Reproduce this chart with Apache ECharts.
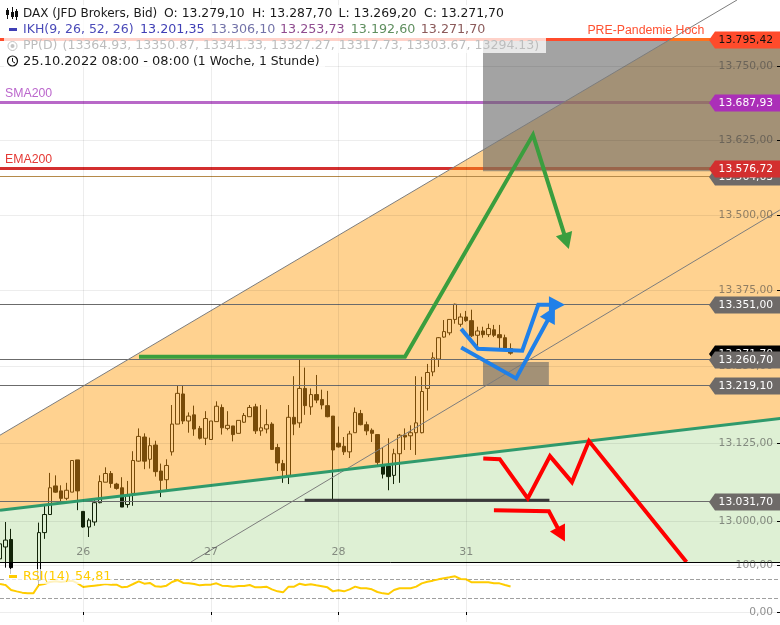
<!DOCTYPE html>
<html><head><meta charset="utf-8">
<style>html,body{margin:0;padding:0;background:#fff}#c{width:780px;height:625px}</style>
<script src="https://cdn.jsdelivr.net/npm/echarts@6/dist/echarts.min.js"></script>
</head><body><div id="c"></div>
<script>
const priceTicks=[13750,13625,13500,13375,13250,13125,13000];
const rsiTicks=[100,0];
const dayLabels={15:'26',38:'27',61:'28',84:'31'};
// [open, close, low, high]
const candles=[
[12939,12963,12925,12988],[12958,12969,12925,12998],[12970,12925,12915,12987],[12925,12900,12890,12928],[12900,12888,12880,12905],
[12888,12895,12880,12902],[12895,12905,12888,12925],[12905,12981,12895,12997],[12981,13010,12971,13025],[13010,13053,13010,13077],
[13056,13046,13045,13073],[13048,13036,13030,13057],[13036,13049,13033,13061],[13046,13097,13046,13097],[13098,13048,13017,13098],
[13015,12990,12989,13015],[12990,13001,12974,13004],[12998,13029,12992,13033],[13029,13063,13028,13073],[13062,13076,13062,13086],
[13076,13060,13053,13080],[13059,13052,13050,13061],[13053,13022,13022,13070],[13026,13040,13021,13064],[13044,13097,13024,13112],
[13096,13136,13095,13149],[13135,13096,13083,13141],[13099,13121,13084,13134],[13122,13079,13071,13129],[13080,13065,13038,13092],
[13066,13089,13050,13099],[13111,13156,13105,13187],[13156,13206,13156,13218],[13205,13161,13156,13218],[13161,13169,13142,13175],
[13171,13148,13137,13186],[13149,13133,13131,13153],[13133,13165,13122,13177],[13131,13161,13131,13161],[13160,13185,13160,13193],
[13183,13150,13139,13188],[13149,13154,13146,13177],[13153,13139,13128,13153],[13141,13162,13141,13162],[13159,13170,13158,13174],
[13168,13183,13168,13187],[13184,13145,13140,13189],[13145,13150,13137,13187],[13148,13155,13141,13180],[13156,13115,13114,13159],
[13118,13093,13080,13124],[13092,13081,13061,13098],[13073,13167,13059,13187],[13167,13156,13138,13234],[13158,13214,13150,13261],
[13214,13186,13171,13248],[13184,13204,13171,13214],[13204,13195,13190,13236],[13196,13187,13180,13212],[13186,13168,13167,13210],
[13169,13114,13032,13169],[13125,13119,13118,13152],[13120,13111,13106,13135],[13111,13140,13101,13145],[13142,13175,13142,13183],
[13173,13155,13154,13179],[13155,13145,13138,13160],[13146,13141,13127,13149],[13139,13094,13088,13139],[13088,13075,13068,13118],
[13088,13071,13049,13133],[13073,13108,13059,13116],[13108,13138,13061,13140],[13138,13135,13114,13149],[13137,13142,13114,13154],
[13142,13158,13106,13234],[13142,13209,13141,13233],[13214,13240,13178,13254],[13241,13264,13234,13273],[13262,13297,13249,13298],
[13298,13307,13297,13326],[13305,13327,13301,13327],[13327,13352,13320,13353],[13319,13331,13315,13337],[13331,13325,13323,13341],
[13325,13300,13298,13343],[13301,13308,13282,13315],[13308,13302,13297,13315],[13302,13312,13298,13320],[13310,13301,13298,13318],
[13302,13297,13279,13318],[13297,13279,13278,13302],[13279.1,13271.7,13269.2,13287.7]];
const rsi=[60.2,58,47.3,44.4,41.6,40.1,40.1,58,60.2,64.5,66,64.5,66,67.4,61.7,53.8,55.2,56.6,58,60.2,58.8,58.8,53.1,54.5,60.2,66,60.9,62.4,55.2,54.5,56.6,64.5,68.8,62.4,61.7,60.2,57.3,58.8,58.8,61.7,56.6,55.9,54.5,55.9,55.9,58,53.1,53,54.5,48.7,44.4,42.3,54.5,54.5,60.9,58,59.5,57.3,55.2,53,44.4,46.6,44.4,48.7,54.5,50.9,50.9,48.7,43,40.1,38.7,47.3,50.9,50.9,50.9,54.5,61.6,65.2,67.4,70.2,72.4,74.5,76.7,70.9,70.2,63.8,63.8,63.8,63.8,61.6,61.6,58,54.81];
const axisCount=142;
const priceMin=12934, priceMax=13862.8;
const barIdxMax=axisCount-1;
const thickLevels=[[13795.42,'#FF4B2B'],[13687.93,'#B868C8'],[13576.72,'#D32F2F']];
const thinLevels=[[13564.63,'#b58a4a'],[13351,'#6b6b6b'],[13260.7,'#6b6b6b'],[13219.1,'#6b6b6b'],[13031.7,'#6b6b6b']];
const tags=[[13795.42,'13.795,42','#FF4B2B','#111111'],[13687.93,'13.687,93','#AB2FB8','#ffffff'],
 [13564.63,'13.564,63','#6E6A68','#ffffff'],[13576.72,'13.576,72','#D32F2F','#ffffff'],
 [13271.70,'13.271,70','#000000','#ffffff'],[13351,'13.351,00','#6E6A68','#ffffff'],[13260.7,'13.260,70','#6E6A68','#ffffff'],
 [13219.1,'13.219,10','#6E6A68','#ffffff'],[13031.7,'13.031,70','#6E6A68','#ffffff']];
const notes=[[0.9,13687.93,'SMA200','#BB66CC','left'],[0.9,13576.72,'EMA200','#E53935','left'],[126.9,13795.42,'PRE-Pandemie Hoch','#FF5030','right']];
const orangeZone=[[0,13138],[121.2,13798],[141,13798],[141,13165.7],[0,13017]];
const greenZone=[[0,13017],[141,13165.7],[141,12934],[0,12934]];
const grayZones=[[[87.03,13793],[141,13793],[141,13573],[87.03,13573]],[[87.03,13257],[98.9,13257],[98.9,13219.1],[87.03,13219.1]]];
const upperTrend=[[0,13138],[132.8,13862.8]];
const midTrend=[[34.4,12934],[140.5,13508]];
const channelLine=[[0,13017],[141,13165.7]];
const supportLine=[[54.9,13033],[99,13033]];
const greenArrow=[[25.05,13265.6],[72.97,13265.6],[96.04,13634],[102.5,13443.5]];
const blueArrow1=[[83.1,13311.5],[86.1,13278.8],[94.1,13275.6],[97,13351],[101.8,13351]];
const blueArrow2=[[83.1,13281],[93,13230.4],[100,13347.7]];
const redPath=[[87.08,13100.4],[90.05,13099.2],[95.1,13035.9],[99.1,13104.1],[103.06,13062.1],[106.13,13128.4],[123.7,12934]];
const redArrow=[[89,13017],[98.9,13015.3],[101.8,12966.6]];

const categories=Array.from({length:axisCount},(_,i)=>dayLabels[i]||'');
const fmt=v=>v.toLocaleString('de-DE',{minimumFractionDigits:2,maximumFractionDigits:2});
const isDay=(i,v)=>v!=='';
function customSeries(z,items,draw,xi,yi){
 return {type:'custom',coordinateSystem:'cartesian2d',xAxisIndex:xi||1,yAxisIndex:yi||0,z,silent:true,clip:true,animation:false,
  data:items.map((_,i)=>[0,yi?50:13300,i]),
  renderItem:(p,api)=>draw(items[p.dataIndex],api,p)};
}
const pts=(arr,api)=>arr.map(a=>api.coord(a));
const poly=(fill)=>(arr,api)=>({type:'polygon',shape:{points:pts(arr,api)},style:{fill}});
const tickMark=(v,api)=>{const y=Math.round(api.coord([0,v])[1])+0.5;return {type:'line',shape:{x1:777,y1:y,x2:780,y2:y},style:{stroke:'#000',lineWidth:1}};};
const paths=[{d:greenArrow,c:'#3A9E3E',h:1},{d:blueArrow1,c:'#2080E8',h:1},{d:blueArrow2,c:'#2080E8',h:1},{d:redPath,c:'#FF0000',h:0},{d:redArrow,c:'#FF0000',h:1}];
const gridLine='rgba(0,0,0,0.07)', labelCol='rgba(70,70,70,0.6)';
const option={
 animation:false,
 backgroundColor:'#ffffff',
 grid:[{left:0,width:782.5,top:0,height:562,outerBoundsMode:'none'},{left:0,width:782.5,top:562,height:60,outerBoundsMode:'none'}],
 xAxis:[
  {type:'category',gridIndex:0,z:6,data:categories,boundaryGap:false,
   axisLine:{show:true,lineStyle:{color:'#000',width:1}},axisTick:{show:false},
   axisLabel:{inside:true,interval:isDay,margin:4,color:labelCol,fontFamily:'DejaVu Sans',fontSize:11,hideOverlap:false},
   splitLine:{show:true,interval:isDay,lineStyle:{color:gridLine,width:1}}},
  {type:'value',gridIndex:0,min:0,max:barIdxMax,show:false},
  {type:'category',gridIndex:1,z:6,data:categories,boundaryGap:false,
   axisLine:{show:false},axisTick:{show:true,interval:isDay,length:3,alignWithLabel:true,lineStyle:{color:'#000'}},
   axisLabel:{show:false},splitLine:{show:true,interval:isDay,lineStyle:{color:gridLine}}},
  {type:'value',gridIndex:1,min:0,max:barIdxMax,show:false}
 ],
 yAxis:[
  {type:'log',logBase:10,gridIndex:0,z:6,position:'right',offset:-2.5,min:priceMin,max:priceMax,
   axisLine:{show:false},axisTick:{show:false,customValues:priceTicks},
   axisLabel:{inside:true,margin:7,customValues:priceTicks,formatter:v=>fmt(v),color:labelCol,fontFamily:'DejaVu Sans',fontSize:10.7},
   splitLine:{show:true,lineStyle:{color:gridLine}}},
  {type:'value',gridIndex:1,z:6,position:'right',offset:-2.5,min:-21.5,max:107.5,
   axisLine:{show:false},axisTick:{show:false,customValues:rsiTicks},
   axisLabel:{inside:true,margin:7,customValues:rsiTicks,formatter:v=>fmt(v),color:labelCol,fontFamily:'DejaVu Sans',fontSize:10.7},
   splitLine:{show:true,lineStyle:{color:gridLine}}}
 ],
 series:[
  {type:'candlestick',xAxisIndex:0,yAxisIndex:0,z:2,data:candles,barWidth:4,silent:true,
   itemStyle:{color:'rgba(0,0,0,0)',color0:'#000',borderColor:'#000',borderColor0:'#000',borderWidth:1}},
  customSeries(2,thickLevels,(it,api)=>{const y=Math.floor(api.coord([0,it[0]])[1]);return {type:'rect',shape:{x:0,y:y-1,width:780,height:3},style:{fill:it[1]}};}),
  customSeries(3,[orangeZone],poly('rgba(255,160,20,0.47)')),
  customSeries(3,[greenZone],poly('rgba(90,180,40,0.2)')),
  customSeries(4,grayZones,poly('rgba(102,102,102,0.6)')),
  customSeries(5,thinLevels,(it,api)=>{const y=Math.floor(api.coord([0,it[0]])[1])+0.5;return {type:'line',shape:{x1:0,y1:y,x2:780,y2:y},style:{stroke:it[1],lineWidth:1}};}),
  customSeries(5,[upperTrend,midTrend],(it,api)=>({type:'polyline',shape:{points:pts(it,api)},style:{stroke:'#7d7d7d',lineWidth:1,fill:null}})),
  customSeries(5,[channelLine],(it,api)=>({type:'polyline',shape:{points:pts(it,api)},style:{stroke:'#2f9a6c',lineWidth:3,fill:null}})),
  customSeries(5,[supportLine],(it,api)=>({type:'polyline',shape:{points:pts(it,api)},style:{stroke:'#3a3a3a',lineWidth:3,fill:null}})),
  customSeries(6,priceTicks,tickMark),
  customSeries(6,rsiTicks,tickMark,3,1),
  customSeries(6,paths,(it,api)=>{
    const P=pts(it.d,api);const kids=[];
    const n=P.length,t=P[n-1],a=P[n-2];
    let line=P.slice();
    if(it.h){
      const dx=t[0]-a[0],dy=t[1]-a[1],L=Math.hypot(dx,dy),ux=dx/L,uy=dy/L,h=16,w=8.5;
      const b=[t[0]-ux*h,t[1]-uy*h];
      line[n-1]=[t[0]-ux*h*0.7,t[1]-uy*h*0.7];
      kids.push({type:'polygon',shape:{points:[t,[b[0]-uy*w,b[1]+ux*w],[b[0]+uy*w,b[1]-ux*w]]},style:{fill:it.c}});
    }
    kids.unshift({type:'polyline',shape:{points:line},style:{stroke:it.c,lineWidth:4,fill:null,lineJoin:'miter'}});
    return {type:'group',children:kids};
  }),
  customSeries(7,tags,(it,api)=>{
    const y=Math.floor(api.coord([0,it[0]])[1])+1;
    return {type:'group',children:[
      {type:'polygon',shape:{points:[[709,y],[715,y-8.5],[780,y-8.5],[780,y+8.5],[715,y+8.5]]},style:{fill:it[2]}},
      {type:'text',style:{x:773,y:y,text:it[1],fill:it[3],font:'10.7px "DejaVu Sans"',align:'right',verticalAlign:'middle'}}
    ]};
  }),
  customSeries(7,notes,(it,api)=>{const c=api.coord([it[0],it[1]]);
    return {type:'text',style:{x:c[0],y:c[1]-3,text:it[2],fill:it[3],font:'12.3px "Liberation Sans"',align:it[4],verticalAlign:'bottom'}};}),
  {type:'line',xAxisIndex:2,yAxisIndex:1,z:5,data:rsi,showSymbol:false,silent:true,lineStyle:{color:'#FFCC00',width:2},
   markLine:{silent:true,symbol:'none',label:{show:false},lineStyle:{type:'dashed',color:'#a0a0a0',width:1},data:[{yAxis:70},{yAxis:30}]}}
 ],
 graphic:{elements:[]}
};
const F='"DejaVu Sans"';
const G=[];
const bg=(x,y,w,h)=>G.push({type:'rect',z:100,silent:true,shape:{x,y,width:w,height:h},style:{fill:'rgba(255,255,255,0.75)'}});
const tx=(x,y,t,c,s)=>G.push({type:'text',z:101,silent:true,x,y,style:{text:t,fill:c,font:(s||12.4)+'px '+F,verticalAlign:'middle',align:'left'}});
bg(4,5,503,16);bg(4,21,484,17);bg(4,38,542,15);bg(4,53,321,14);bg(4,569,108,15);
tx(23,14,'DAX (JFD Brokers, Bid)','#1a1a1a',12);
[[164,'O: 13.279,10'],[252,'H: 13.287,70'],[338.6,'L: 13.269,20'],[424,'C: 13.271,70']].forEach(a=>tx(a[0],14,a[1],'#1a1a1a'));
[[23,'IKH(9, 26, 52, 26)','#4A4AB8',12.5],[140,'13.201,35','#3F3FB5',12.7],[210.7,'13.306,10','#7272A8',12.7],[280,'13.253,73','#8F4C8F',12.7],[350.7,'13.192,60','#5F8F5F',12.7],[420.7,'13.271,70','#8B5A5A',12.7]].forEach(a=>tx(a[0],30,a[1],a[2],a[3]));
tx(23,46,'PP(D)','#bdbdbd',12.5);
tx(62.5,46,'(13364.93, 13350.87, 13341.33, 13327.27, 13317.73, 13303.67, 13294.13)','#bdbdbd',12.55);
tx(23,62,'25.10.2022 08:00 - 08:00','#1a1a1a',13);
tx(193,62,'(1 Woche, 1 Stunde)','#1a1a1a',12.4);
tx(23,577,'RSI(14)','#FFCC00',12.7);tx(75,577,'54,81','#FFCC00',12.7);
G.push({type:'rect',z:101,silent:true,shape:{x:9,y:28,width:8,height:3},style:{fill:'#3F3FB5'}});
G.push({type:'rect',z:101,silent:true,shape:{x:9,y:575,width:8,height:3},style:{fill:'#FFCC00'}});
[[7.5,8,19,10,15],[12.5,7,19,12,17],[16.5,9,20,11,17]].forEach(a=>{
  G.push({type:'line',z:101,silent:true,shape:{x1:a[0],y1:a[1],x2:a[0],y2:a[2]},style:{stroke:'#111',lineWidth:1}});
  G.push({type:'rect',z:101,silent:true,shape:{x:a[0]-1.5,y:a[3],width:3,height:a[4]-a[3]},style:{fill:'#111'}});
});
G.push({type:'circle',z:101,silent:true,shape:{cx:12.5,cy:46,r:4.5},style:{stroke:'#c4c4c4',lineWidth:1,fill:null}});
G.push({type:'circle',z:101,silent:true,shape:{cx:12.5,cy:46,r:2},style:{fill:'#c4c4c4'}});
G.push({type:'circle',z:101,silent:true,shape:{cx:12.5,cy:61,r:5},style:{stroke:'#111',lineWidth:1.2,fill:null}});
G.push({type:'polyline',z:101,silent:true,shape:{points:[[12.5,58],[12.5,61.5],[15,63]]},style:{stroke:'#111',lineWidth:1,fill:null}});
option.graphic.elements=G;
const chart=echarts.init(document.getElementById('c'),null,{renderer:'canvas',width:780,height:625});
chart.setOption(option);
</script></body></html>
